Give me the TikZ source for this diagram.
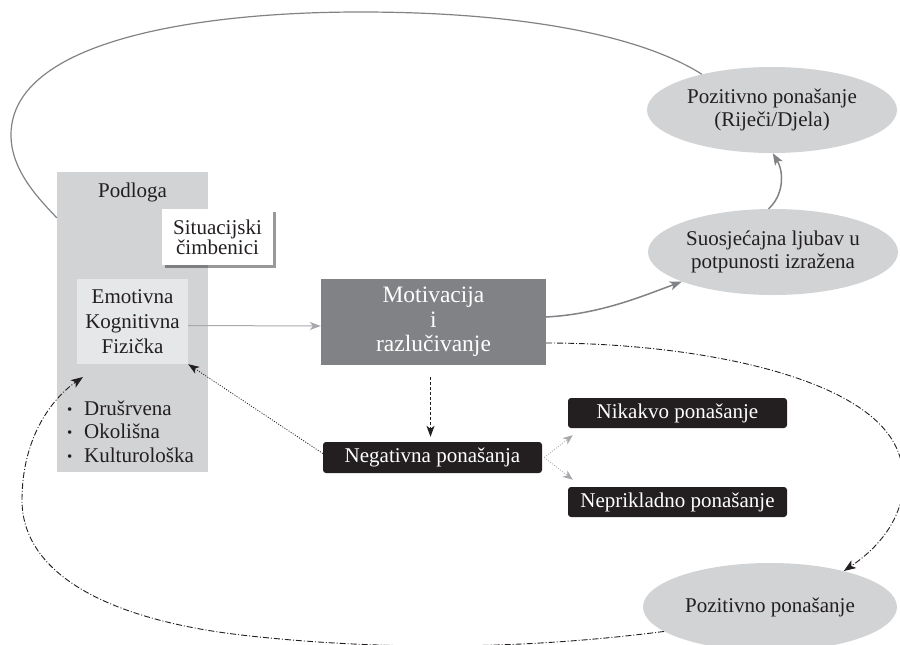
\documentclass[tikz,border=0pt]{standalone}
\usepackage{fontspec}
\setmainfont{Liberation Serif}
\usetikzlibrary{arrows.meta,shapes.geometric,shadows}
\definecolor{podgray}{HTML}{D1D3D4}
\definecolor{emogray}{HTML}{E6E7E8}
\definecolor{motgray}{HTML}{808285}
\definecolor{inkblack}{HTML}{231F20}
\definecolor{linegray}{HTML}{808285}
\definecolor{lightline}{HTML}{A7A9AC}
\newcommand{\bulmark}{\makebox[17pt][l]{\raisebox{1pt}{\fontsize{15}{15}\selectfont •}}}
\begin{document}
\begin{tikzpicture}[x=1pt,y=-1pt,
  txt/.style={font=\fontsize{21}{24}\selectfont, text=inkblack, inner sep=0pt},
  podbox/.style={fill=podgray, draw=none, inner sep=0pt},
  sitbox/.style={fill=white, inner sep=0pt, align=center, text=inkblack,
     font=\fontsize{21}{19}\selectfont,
     drop shadow={shadow xshift=2.5pt, shadow yshift=-2.5pt, fill=black, opacity=0.4}},
  emobox/.style={fill=emogray, inner sep=0pt, align=center, text=inkblack,
     font=\fontsize{21}{25}\selectfont},
  motbox/.style={fill=motgray, inner sep=0pt, align=center, text=white,
     font=\fontsize{23.5}{24.5}\selectfont},
  blackbox/.style={fill=inkblack, rounded corners=3pt, inner sep=0pt, text=white,
     font=\fontsize{21}{24}\selectfont, minimum width=219pt},
  ell/.style={ellipse, fill=podgray, inner sep=0pt, align=center, text=inkblack,
     font=\fontsize{21}{23.5}\selectfont},
  graycurve/.style={draw=linegray, line width=1.2pt},
  grayarrow/.style={draw=linegray, line width=1.5pt, -{Stealth[length=12pt,width=9pt,inset=3pt]}},
  lightarrow/.style={draw=lightline, line width=1pt, -{Stealth[length=11pt,width=8pt,inset=3pt]}},
  dashdot/.style={draw=inkblack, line width=0.9pt, dash pattern=on 6pt off 2pt on 1pt off 2pt,
     -{Stealth[length=12pt,width=9pt,inset=3pt]}},
  darkdot/.style={draw=inkblack, line width=0.8pt, dash pattern=on 1pt off 1.5pt,
     -{Stealth[length=11pt,width=8pt,inset=3pt]}},
  darkdash/.style={draw=inkblack, line width=1.2pt, dash pattern=on 3pt off 2pt,
     -{Stealth[length=11pt,width=8pt,inset=3pt]}},
  graydot/.style={draw=lightline, line width=0.8pt, dash pattern=on 1pt off 1.5pt,
     -{Stealth[length=10pt,width=8pt,inset=3pt]}}
]
\useasboundingbox (0,0) rectangle (900,645);

% left block
\node[podbox, minimum width=151pt, minimum height=300pt] (pod) at (132.5,322) {};
\node[txt] (podlbl) at (132.5,192) {Podloga};
\node[sitbox, minimum width=111pt, minimum height=56pt] (sit) at (217.5,237) {Situacijski\\čimbenici};
\node[emobox, minimum width=111pt, minimum height=85pt] (emo) at (132.5,321.5) {Emotivna\\Kognitivna\\Fizička};
\node[txt, anchor=base west] (b1) at (67,415) {\bulmark Drušrvena};
\node[txt, anchor=base west] (b2) at (67,438.5) {\bulmark Okolišna};
\node[txt, anchor=base west] (b3) at (67,462) {\bulmark Kulturološka};
\coordinate (podin) at (83,377);

% centre
\node[motbox, minimum width=225pt, minimum height=86pt] (mot) at (433.5,322) {Motivacija\\i\\razlučivanje};
\node[blackbox, minimum height=31pt] (neg) at (432.5,457.5) {Negativna ponašanja};
\node[blackbox, minimum height=30pt] (nik) at (677.5,413) {Nikakvo ponašanje};
\node[blackbox, minimum height=30pt] (nep) at (677.5,502) {Neprikladno ponašanje};

% ellipses
\node[ell, minimum width=250pt, minimum height=86pt] (ptop) at (772,110) {Pozitivno ponašanje\\(Riječi/Djela)};
\node[ell, minimum width=250pt, minimum height=86pt] (suo) at (773,252) {Suosjećajna ljubav u\\potpunosti izražena};
\node[ell, minimum width=254pt, minimum height=88pt] (pbot) at (770,607) {Pozitivno ponašanje};

% connectors
\draw[graycurve] (pod.126.5) .. controls (38,198) and (11,170) .. (11,135)
   .. controls (11,40) and (200,12) .. (360,12)
   .. controls (520,12) and (640,35) .. (ptop.153);
\draw[lightarrow] ([yshift=-4pt]emo.east) -- ([yshift=-4pt]mot.west);
\draw[grayarrow] ([yshift=5pt]mot.east) .. controls (600,314) and (640,297) .. (suo.198);
\draw[grayarrow] (suo.96) .. controls (784,195) and (784,172) .. (ptop.271);
\draw[dashdot] ([yshift=-21pt]mot.east) .. controls (680,343) and (835,370) .. (885,430)
   .. controls (915,465) and (912,525) .. (pbot.26);
\draw[dashdot] (pbot.193) .. controls (520,650) and (380,650) .. (250,636)
   .. controls (100,620) and (22,570) .. (22,500)
   .. controls (22,440) and (50,400) .. (podin);
\draw[darkdot] ([yshift=4pt]neg.west) -- (emo.south east);
\draw[darkdash] ([xshift=-3pt,yshift=-12pt]mot.south) -- ([xshift=-2pt,yshift=5pt]neg.north);
\draw[graydot] ([xshift=2pt]neg.east) -- ([shift={(5pt,-7pt)}]nik.south west);
\draw[graydot] ([xshift=2pt]neg.east) -- ([shift={(5pt,7pt)}]nep.north west);
\end{tikzpicture}
\end{document}
